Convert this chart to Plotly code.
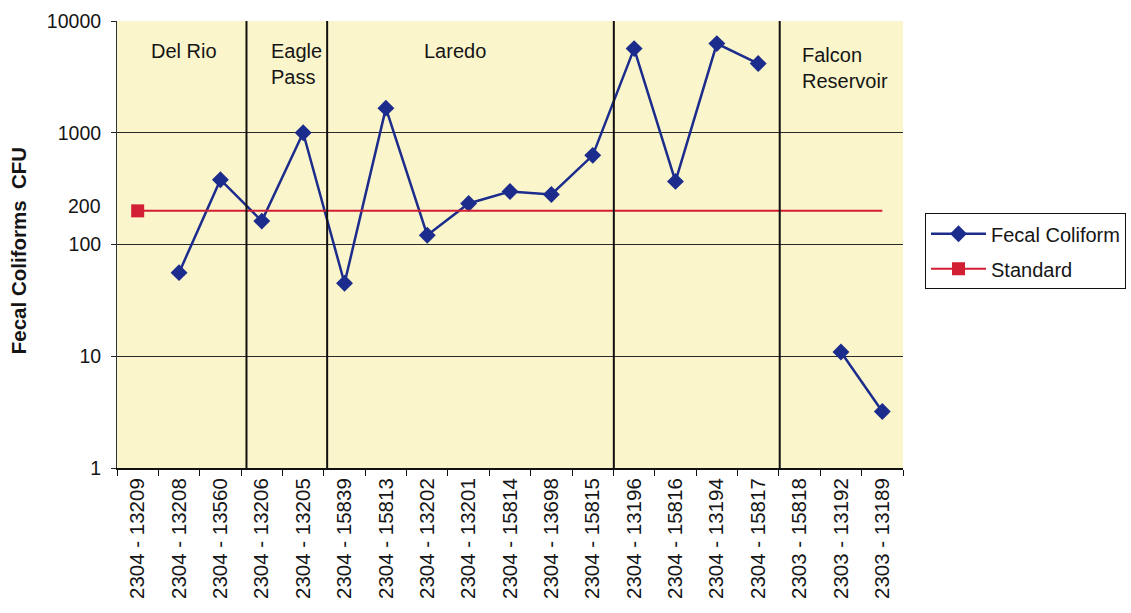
import math
import plotly.graph_objects as go

# Sampling stations (segment - station ID) along the river, upstream to downstream
stations = [
    "2304 - 13209", "2304 - 13208", "2304 - 13560", "2304 - 13206", "2304 - 13205",
    "2304 - 15839", "2304 - 15813", "2304 - 13202", "2304 - 13201", "2304 - 15814",
    "2304 - 13698", "2304 - 15815", "2304 - 13196", "2304 - 15816", "2304 - 13194",
    "2304 - 15817", "2303 - 15818", "2303 - 13192", "2303 - 13189",
]

# Fecal coliform counts (CFU); None where no sample was taken
fecal_coliform = [
    None, 56, 380, 162, 1000,
    45, 1660, 121, 233, 298,
    280, 628, 5660, 367, 6280,
    4160, None, 10.9, 3.2,
]

# Contact-recreation standard (CFU)
standard = [200] * len(stations)

# Y axis ticks
y_tickvals = [1, 10, 100, 1000, 10000]
y_ticktext = ["1", "10", "100", "1000", "10000"]
extra_tick_value = 200

# City reaches along the river and the dividers between them (category units)
reach_labels = [
    ("Del Rio", 1.12, "center", 0.962),
    ("Eagle<br>Pass", 3.17, "left", 0.962),
    ("Laredo", 7.67, "center", 0.962),
    ("Falcon<br>Reservoir", 16.0, "left", 0.952),
]
reach_dividers = [2.63, 4.58, 11.51, 15.52]

FONT = "Liberation Sans, Arial, sans-serif"
BLUE = "#1C2C8C"
RED = "#D21F33"
PLOT_BG = "#FAF5CB"
TEXT = "#151515"

fig = go.Figure()

fig.add_trace(go.Scatter(
    x=stations, y=fecal_coliform, name="Fecal Coliform",
    mode="lines+markers", connectgaps=False,
    line=dict(color=BLUE, width=2.5),
    marker=dict(symbol="diamond", size=13, color=BLUE),
    legendgroup="fc",
))

# Standard: a continuous line with a single square marker at its start
fig.add_trace(go.Scatter(
    x=stations, y=standard, mode="lines", showlegend=False,
    line=dict(color=RED, width=2), legendgroup="std", hoverinfo="skip",
))
fig.add_trace(go.Scatter(
    x=stations[:1], y=standard[:1], name="Standard",
    mode="lines+markers",
    line=dict(color=RED, width=2),
    marker=dict(symbol="square", size=13, color=RED),
    legendgroup="std",
))

shapes = []
for xd in reach_dividers:
    shapes.append(dict(type="line", xref="x", yref="paper", x0=xd, x1=xd, y0=0, y1=1,
                       line=dict(color="#111", width=2), layer="above"))

annotations = []
for text, xc, anchor, ytop in reach_labels:
    annotations.append(dict(text=text, x=xc, xref="x", y=ytop, yref="paper",
                            xanchor=anchor, yanchor="top", showarrow=False, align="left",
                            font=dict(family=FONT, size=20, color=TEXT)))

# Extra "200" label on the value axis (no gridline)
annotations.append(dict(text=str(extra_tick_value), x=0, xref="paper", xshift=-14,
                        y=math.log10(extra_tick_value), yref="y", yshift=5,
                        xanchor="right", yanchor="middle", showarrow=False,
                        font=dict(family=FONT, size=19.5, color=TEXT)))

# Value axis title
annotations.append(dict(text="Fecal Coliforms\u00a0\u00a0CFU", textangle=-90,
                        x=(18 - 117) / 786, xref="paper", y=0.485, yref="paper",
                        xanchor="center", yanchor="middle", showarrow=False,
                        font=dict(family=FONT, size=20.5, color=TEXT, weight="bold")))

fig.update_layout(
    width=1131, height=613, autosize=False,
    margin=dict(l=117, r=228, t=21, b=145, autoexpand=False),
    paper_bgcolor="white", plot_bgcolor=PLOT_BG,
    font=dict(family=FONT, size=19, color=TEXT),
    shapes=shapes, annotations=annotations,
    legend=dict(
        x=1.028, y=0.57, xanchor="left", yanchor="top",
        bordercolor="#111", borderwidth=1, bgcolor="white",
        font=dict(family=FONT, size=20, color=TEXT),
        traceorder="grouped", tracegroupgap=6,
        itemwidth=55,
    ),
    xaxis=dict(
        type="category", categoryorder="array", categoryarray=stations,
        range=[-0.5, len(stations) - 0.5],
        tickson="boundaries", ticks="outside", ticklen=6, tickcolor="#111",
        showline=True, linecolor="#111", linewidth=2,
        showgrid=False, tickangle=-90,
        tickfont=dict(family=FONT, size=20.5, color=TEXT),
    ),
    yaxis=dict(
        type="log", range=[0, 4],
        tickvals=y_tickvals, ticktext=y_ticktext,
        ticks="outside", ticklen=5, tickcolor="#222",
        showline=True, linecolor="#333", linewidth=1,
        showgrid=True, gridcolor="#2a2a2a", gridwidth=1, zeroline=False,
        ticklabelstandoff=6,
        tickfont=dict(family=FONT, size=19.5, color=TEXT),
    ),
)

fig.write_html("out.html")
